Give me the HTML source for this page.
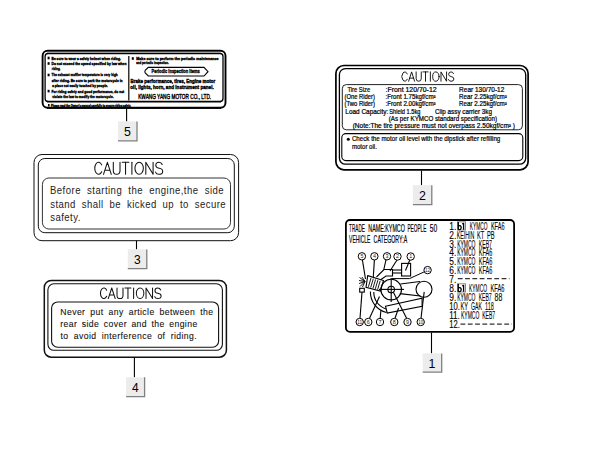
<!DOCTYPE html>
<html><head><meta charset="utf-8">
<style>
html,body{margin:0;padding:0;background:#fff;width:612px;height:472px;overflow:hidden}
svg{display:block}
text{font-family:"Liberation Sans",sans-serif}
.b{font-weight:bold}
</style></head><body>
<svg width="612" height="472" viewBox="0 0 612 472">
<rect width="612" height="472" fill="#fff"/>
<defs>
<g id="caut" fill="none" stroke-linecap="round" stroke-linejoin="round">
<path d="M7,2.6 A3.8,6 0 1 0 7,9.4"/>
<path d="M8.8,12 L12.7,0 L16.6,12 M10.1,8 H15.3"/>
<path d="M18.6,0 V8.4 Q18.6,12 21.95,12 Q25.3,12 25.3,8.4 V0"/>
<path d="M27.5,0 H34.2 M30.85,0 V12"/>
<path d="M37.2,0 V12"/>
<ellipse cx="44.45" cy="6" rx="4.2" ry="6"/>
<path d="M51.1,12 V0 L58.4,12 V0"/>
<path d="M67.5,2.2 Q66.6,0 64.3,0 Q61.1,0 61.1,3 Q61.1,5.5 64.4,6 Q68,6.5 68,9.1 Q68,12 64.3,12 Q61.6,12 60.8,9.8"/>
</g>
</defs>


<!-- ============ LABEL 5 ============ -->
<g id="l5">
  <rect x="42.6" y="50.7" width="182.9" height="57" rx="5" fill="none" stroke="#000" stroke-width="1.9"/>
  <rect x="45.1" y="53.5" width="177.9" height="47.9" rx="3" fill="none" stroke="#000" stroke-width="1.3"/>
  <line x1="47" y1="52.4" x2="221" y2="52.4" stroke="#999" stroke-width="1"/>
  <line x1="47" y1="102.5" x2="221" y2="102.5" stroke="#808080" stroke-width="1.1"/>
  <line x1="47" y1="107.9" x2="221" y2="107.9" stroke="#000" stroke-width="1.6"/>
  <line x1="128.8" y1="56" x2="128.8" y2="100.5" stroke="#000" stroke-width="1.2"/>
  <g class="b" font-size="4.3" fill="#000" stroke="#000" stroke-width="0.38">
    <text x="51.5" y="59.5" textLength="69.5" lengthAdjust="spacingAndGlyphs">Be sure to wear a safety helmet when riding.</text>
    <text x="51.5" y="65" textLength="75" lengthAdjust="spacingAndGlyphs">Do not exceed  the speed specified by law when</text>
    <text x="51.8" y="70.4" textLength="8.6" lengthAdjust="spacingAndGlyphs">riding.</text>
    <text x="51.5" y="76.2" textLength="66.2" lengthAdjust="spacingAndGlyphs">The exhaust muffler temperature is very high</text>
    <text x="51.8" y="81.5" textLength="70.8" lengthAdjust="spacingAndGlyphs">after riding. Be sure to park the motorcycle in</text>
    <text x="52.2" y="87" textLength="55.7" lengthAdjust="spacingAndGlyphs">a place not easily touched by people.</text>
    <text x="51.5" y="92.6" textLength="72.7" lengthAdjust="spacingAndGlyphs">For riding safety and good performance, do not</text>
    <text x="52.2" y="98" textLength="61.4" lengthAdjust="spacingAndGlyphs">violate the law to modify the motorcycle.</text>
    <text x="51" y="106.6" stroke-width="0.4" textLength="80" lengthAdjust="spacingAndGlyphs">Please read the Owner's manual carefully to ensure riding safety.</text>
    <text x="136.3" y="59.8" textLength="82.2" lengthAdjust="spacingAndGlyphs">Make sure to perform the periodic maintenance</text>
    <text x="136.3" y="63.6" textLength="32.5" lengthAdjust="spacingAndGlyphs">and periodic inspection.</text>
  </g>
  <g fill="#000">
    <rect x="47.6" y="56.7" width="2" height="2.6"/>
    <rect x="47.6" y="62.2" width="2" height="2.6"/>
    <rect x="47.6" y="73.7" width="2" height="2.6"/>
    <rect x="47.6" y="89.8" width="2" height="2.6"/>
    <rect x="131.8" y="57.2" width="2" height="2.6"/>
    <rect x="48" y="104" width="1.6" height="2.4"/>
  </g>
  <path d="M148.3,67.4 H204 L208,71.7 L204,76 H148.3 L145.2,73 Q144.5,71.7 145.2,70.4 Z" fill="none" stroke="#000" stroke-width="1.1"/>
  <text class="b" x="151.6" y="72.9" font-size="5.6" stroke="#000" stroke-width="0.35" textLength="48.1" lengthAdjust="spacingAndGlyphs">Periodic Inspection Items</text>
  <text class="b" x="130.6" y="83.3" font-size="5.6" stroke="#000" stroke-width="0.4" textLength="84.6" lengthAdjust="spacingAndGlyphs">Brake performance, tires, Engine motor</text>
  <text class="b" x="130.3" y="88.9" font-size="5.6" stroke="#000" stroke-width="0.4" textLength="83.4" lengthAdjust="spacingAndGlyphs">oil, lights, horn, and instrument panel.</text>
  <text x="138.2" y="98.8" font-size="6.5" stroke="#000" stroke-width="0.4" textLength="73" lengthAdjust="spacingAndGlyphs">KWANG YANG MOTOR CO., LTD.</text>
</g>

<!-- ============ LABEL 3 ============ -->
<g id="l3" fill="none" stroke="#111" stroke-width="1">
  <rect x="34" y="154.5" width="204.6" height="86.2" rx="8"/>
  <rect x="38.3" y="158.5" width="196" height="74.2" rx="6.5"/>
  <rect x="42.4" y="178" width="188.1" height="51" rx="6.5" stroke="#333"/>
</g>
<use href="#caut" transform="translate(94.7,162.3) scale(1,1.0)" stroke="#111" stroke-width="1.05"/>
<g font-size="10.4" fill="#222" letter-spacing="0.5">
  <text transform="translate(50,194) scale(0.92,1)" word-spacing="3.35">Before starting the engine,the side</text>
  <text transform="translate(50.2,207.7) scale(0.92,1)" word-spacing="2.95">stand shall be kicked up to secure</text>
  <text transform="translate(50.2,221) scale(0.92,1)">safety.</text>
</g>

<!-- ============ LABEL 4 ============ -->
<g id="l4" fill="none" stroke="#111">
  <rect x="44.3" y="280.5" width="182.1" height="76.7" rx="7" stroke-width="1.5"/>
  <rect x="47.9" y="283.8" width="174.5" height="66.5" rx="6" stroke-width="1.1"/>
  <rect x="51.6" y="302" width="167" height="45.2" rx="6" stroke-width="1.1"/>
</g>
<use href="#caut" transform="translate(100.4,288) scale(0.893,0.88)" stroke="#111" stroke-width="1.15"/>
<g font-size="9.4" fill="#111" stroke="#111" stroke-width="0.1" letter-spacing="0.45">
  <text transform="translate(60.3,314.7) scale(0.92,1)" word-spacing="2.35">Never put any article between the</text>
  <text transform="translate(60.3,326.5) scale(0.92,1)" word-spacing="1.8">rear side cover and the engine</text>
  <text transform="translate(60.5,338.5) scale(0.92,1)" word-spacing="2.6">to avoid interference of riding.</text>
</g>

<!-- ============ LABEL 2 ============ -->
<g id="l2" fill="none" stroke="#000">
  <rect x="335.9" y="65.5" width="192.2" height="104.3" rx="8" stroke-width="1.7"/>
  <rect x="339.4" y="68.6" width="186.3" height="95.6" rx="6" stroke-width="1.3"/>
  <rect x="342.3" y="84.6" width="180.1" height="45.2" rx="4" stroke-width="1" stroke="#222"/>
  <rect x="341.8" y="133.6" width="181" height="27" rx="4" stroke-width="1.1"/>
</g>
<use href="#caut" transform="translate(401.9,71.9) scale(0.765,0.78)" stroke="#000" stroke-width="1.15"/>
<g font-size="6.7" fill="#000" stroke="#000" stroke-width="0.22">
  <text x="347.4" y="92.1" textLength="22.8" lengthAdjust="spacingAndGlyphs">Tire Size</text>
  <text x="344.5" y="98.5" textLength="30.5" lengthAdjust="spacingAndGlyphs">(One Rider)</text>
  <text x="344.5" y="106.4" textLength="30.5" lengthAdjust="spacingAndGlyphs">(Two Rider)</text>
  <text x="345.3" y="113.8" textLength="43" lengthAdjust="spacingAndGlyphs">Load Capacity:</text>
  <text x="385.6" y="92.1" textLength="51" lengthAdjust="spacingAndGlyphs">:Front 120/70-12</text>
  <text x="385.6" y="98.5" textLength="50" lengthAdjust="spacingAndGlyphs">:Front 1.75kgf/cm²</text>
  <text x="385.6" y="106.4" textLength="50" lengthAdjust="spacingAndGlyphs">:Front 2.00kgf/cm²</text>
  <text x="459.1" y="92.1" textLength="45.2" lengthAdjust="spacingAndGlyphs">Rear 130/70-12</text>
  <text x="459.1" y="98.5" textLength="47.7" lengthAdjust="spacingAndGlyphs">Rear 2.25kgf/cm²</text>
  <text x="459.1" y="106.4" textLength="47.7" lengthAdjust="spacingAndGlyphs">Rear 2.25kgf/cm²</text>
  <text x="389.3" y="113.6" textLength="31.1" lengthAdjust="spacingAndGlyphs">Shield 1.5kg</text>
  <text x="435" y="113.8" textLength="57" lengthAdjust="spacingAndGlyphs">Clip assy carrier 3kg</text>
  <text x="388.8" y="121.2" textLength="108.2" lengthAdjust="spacingAndGlyphs">(As per KYMCO standard specification)</text>
  <text x="352.7" y="128.4" textLength="162.3" lengthAdjust="spacingAndGlyphs">(Note:The tire pressure must not overpass 2.50kgf/cm² )</text>
  <text x="351.9" y="141.4" stroke-width="0.2" textLength="148.4" lengthAdjust="spacingAndGlyphs">Check the motor oil level with the dipstick after refilling</text>
  <text x="351.9" y="149.2" stroke-width="0.2" textLength="25" lengthAdjust="spacingAndGlyphs">motor oil.</text>
</g>
<circle cx="348.3" cy="139.3" r="1.5" fill="#000"/>

<!-- ============ LABEL 1 ============ -->
<rect x="345.9" y="220" width="168.2" height="111.8" rx="4" fill="none" stroke="#000" stroke-width="1.8"/>
<g font-size="10.4" fill="#000" stroke="#000" stroke-width="0.2">
  <text x="349.1" y="232.3" textLength="15.8" lengthAdjust="spacingAndGlyphs">TRADE</text>
  <text x="368.3" y="232.3" textLength="36.6" lengthAdjust="spacingAndGlyphs">NAME:KYMCO</text>
  <text x="407.4" y="232.3" textLength="19.0" lengthAdjust="spacingAndGlyphs">PEOPLE</text>
  <text x="429.7" y="232.3" textLength="7.4" lengthAdjust="spacingAndGlyphs">50</text>
  <text x="349.1" y="242.9" textLength="21.2" lengthAdjust="spacingAndGlyphs">VEHICLE</text>
  <text x="373.6" y="242.9" textLength="33.6" lengthAdjust="spacingAndGlyphs">CATEGORY:A</text>
</g>
<g font-size="10" fill="#000" stroke="#000" stroke-width="0.12">
  <text x="449.3" y="229.6" textLength="7" lengthAdjust="spacingAndGlyphs">1.</text>
  <text x="449.3" y="238.5" textLength="7" lengthAdjust="spacingAndGlyphs">2.</text>
  <text x="449.3" y="247.5" textLength="7" lengthAdjust="spacingAndGlyphs">3.</text>
  <text x="449.3" y="256.4" textLength="7" lengthAdjust="spacingAndGlyphs">4.</text>
  <text x="449.3" y="265.3" textLength="7" lengthAdjust="spacingAndGlyphs">5.</text>
  <text x="449.3" y="274.2" textLength="7" lengthAdjust="spacingAndGlyphs">6.</text>
  <text x="449.3" y="283.2" textLength="7" lengthAdjust="spacingAndGlyphs">7.</text>
  <text x="449.3" y="292.1" textLength="7" lengthAdjust="spacingAndGlyphs">8.</text>
  <text x="449.3" y="301.0" textLength="7" lengthAdjust="spacingAndGlyphs">9.</text>
  <text x="449.2" y="310.0" textLength="10.6" lengthAdjust="spacingAndGlyphs">10.</text>
  <text x="449.2" y="318.9" textLength="10.6" lengthAdjust="spacingAndGlyphs">11.</text>
  <text x="449.2" y="327.8" textLength="10.6" lengthAdjust="spacingAndGlyphs">12.</text>
  <text font-size="10" stroke-width="0.1" x="469.8" y="229.6" textLength="17.6" lengthAdjust="spacingAndGlyphs">KYMCO</text>
  <text font-size="10" stroke-width="0.1" x="490.9" y="229.6" textLength="13.6" lengthAdjust="spacingAndGlyphs">KFA6</text>
  <text font-size="10" stroke-width="0.1" x="456.8" y="238.5" textLength="17.6" lengthAdjust="spacingAndGlyphs">KEIHIN</text>
  <text font-size="10" stroke-width="0.1" x="477.0" y="238.5" textLength="7.3" lengthAdjust="spacingAndGlyphs">KT</text>
  <text font-size="10" stroke-width="0.1" x="486.9" y="238.5" textLength="7.7" lengthAdjust="spacingAndGlyphs">PB</text>
  <text font-size="10" stroke-width="0.1" x="457.2" y="247.5" textLength="18.3" lengthAdjust="spacingAndGlyphs">KYMCO</text>
  <text font-size="10" stroke-width="0.1" x="478.7" y="247.5" textLength="13.3" lengthAdjust="spacingAndGlyphs">KEB7</text>
  <text font-size="10" stroke-width="0.1" x="457.2" y="256.4" textLength="18.3" lengthAdjust="spacingAndGlyphs">KYMCO</text>
  <text font-size="10" stroke-width="0.1" x="478.7" y="256.4" textLength="13.6" lengthAdjust="spacingAndGlyphs">KFA6</text>
  <text font-size="10" stroke-width="0.1" x="457.2" y="265.3" textLength="18.3" lengthAdjust="spacingAndGlyphs">KYMCO</text>
  <text font-size="10" stroke-width="0.1" x="478.7" y="265.3" textLength="13.6" lengthAdjust="spacingAndGlyphs">KFA6</text>
  <text font-size="10" stroke-width="0.1" x="457.2" y="274.2" textLength="18.3" lengthAdjust="spacingAndGlyphs">KYMCO</text>
  <text font-size="10" stroke-width="0.1" x="478.7" y="274.2" textLength="13.6" lengthAdjust="spacingAndGlyphs">KFA6</text>
  <text font-size="10" stroke-width="0.1" x="469.1" y="292.1" textLength="17.9" lengthAdjust="spacingAndGlyphs">KYMCO</text>
  <text font-size="10" stroke-width="0.1" x="490.5" y="292.1" textLength="13.9" lengthAdjust="spacingAndGlyphs">KFA6</text>
  <text font-size="10" stroke-width="0.1" x="457.2" y="301.0" textLength="18.3" lengthAdjust="spacingAndGlyphs">KYMCO</text>
  <text font-size="10" stroke-width="0.1" x="478.7" y="301.0" textLength="13.0" lengthAdjust="spacingAndGlyphs">KEB7</text>
  <text font-size="10" stroke-width="0.1" x="494.5" y="301.0" textLength="7.8" lengthAdjust="spacingAndGlyphs">88</text>
  <text font-size="10" stroke-width="0.1" x="460.4" y="310.0" textLength="7.6" lengthAdjust="spacingAndGlyphs">KY</text>
  <text font-size="10" stroke-width="0.1" x="471.0" y="310.0" textLength="11.0" lengthAdjust="spacingAndGlyphs">GAK</text>
  <text font-size="10" stroke-width="0.1" x="485.0" y="310.0" textLength="8.8" lengthAdjust="spacingAndGlyphs">118</text>
  <text font-size="10" stroke-width="0.1" x="461.0" y="318.9" textLength="18.3" lengthAdjust="spacingAndGlyphs">KYMCO</text>
  <text font-size="10" stroke-width="0.1" x="482.2" y="318.9" textLength="13.0" lengthAdjust="spacingAndGlyphs">KEB7</text>
</g>
<g stroke="#333" stroke-width="1.3" stroke-dasharray="4.8,2.5">
  <line x1="457.8" y1="278.7" x2="509.5" y2="278.7"/>
  <line x1="460.5" y1="324.2" x2="512" y2="324.2"/>
</g>
<g id="ico1" transform="translate(457,221.3)">
  <rect x="0.5" y="0.5" width="8" height="8.2" fill="none" stroke="#888" stroke-width="1"/>
  <path d="M1.3,0.6 V8.5 M1.3,4.5 Q4.2,3.8 4.2,6.3 Q4.2,8.5 1.3,8.3 M6.6,1.7 V8.5 M5.4,3 L6.6,1.7" fill="none" stroke="#000" stroke-width="1.3"/>
</g>
<use href="#ico1" transform="translate(0,62)"/>

<!-- engine drawing -->
<g fill="none" stroke="#000" stroke-width="1.1">
  <!-- coil box -->
  <rect x="401.6" y="263.4" width="9" height="12.6"/>
  <line x1="409.8" y1="260" x2="405.5" y2="270.5"/>
  <line x1="397" y1="260" x2="390" y2="271"/>
  <line x1="392" y1="270" x2="401.6" y2="270"/>
  <line x1="392" y1="273" x2="401.6" y2="273"/>
  <!-- carb -->
  <path d="M376.5,277 L384,269.5 H392.5 V276 H386 L381,279.5"/>
  <line x1="386" y1="259.8" x2="383.8" y2="269.5"/>
  <line x1="374.4" y1="259.8" x2="373.3" y2="277"/>
  <line x1="362.4" y1="259.8" x2="365.5" y2="279"/>
  <!-- 12 leader -->
  <polyline points="424.3,271.8 409.5,278.6 392,278.6" stroke-width="1"/>
  <!-- crank -->
  <circle cx="391.2" cy="289.6" r="10.3"/>
  <circle cx="391.2" cy="289.6" r="3.3"/>
  <line x1="379" y1="289.4" x2="404" y2="289.4"/>
  <line x1="391.2" y1="278" x2="391.2" y2="302"/>
  <!-- pulley -->
  <circle cx="424" cy="289.2" r="8"/>
  <line x1="400.5" y1="284" x2="420" y2="281.5"/>
  <line x1="399.8" y1="293.6" x2="420.4" y2="296"/>
  <!-- muffler -->
  <path d="M385.5,306.2 L422.1,298.2 L422.1,306.2 L387.2,313 Z"/>
  <!-- arc case -->
  <path d="M370.4,291.5 A21,21 0 0 0 386.5,312.5"/>
  <path d="M373.8,292 A17.5,17.5 0 0 0 386,309"/>
  <!-- cylinder -->
  <polygon points="367.7,275.6 383.5,280.5 380.4,291 366,287.4"/>
  <!-- part 11 box -->
  <rect x="359.7" y="288.3" width="4.6" height="3.8"/>
  <!-- leaders bottom -->
  <line x1="362" y1="292.1" x2="360" y2="318.3"/>
  <line x1="379.5" y1="296.5" x2="369.5" y2="318.3"/>
  <line x1="380.9" y1="310.3" x2="380.2" y2="318.3"/>
  <line x1="398.6" y1="308" x2="395" y2="318.3"/>
  <line x1="393.5" y1="292.5" x2="406.6" y2="318.3"/>
  <line x1="424.2" y1="291.9" x2="421" y2="318.3"/>
</g>
<g stroke="#000" stroke-width="0.9">
  <line x1="371" y1="278" x2="368.4" y2="286.8"/>
  <line x1="373.3" y1="278.7" x2="370.7" y2="287.5"/>
  <line x1="375.6" y1="279.4" x2="373" y2="288.2"/>
  <line x1="377.9" y1="280.1" x2="375.3" y2="288.9"/>
  <line x1="380.2" y1="280.8" x2="377.6" y2="289.6"/>
  <!-- spark -->
  <path d="M365,281.5 L359.5,277.5 M365,281.5 L359,280.5 M365,281.5 L359,283.5 M365,281.5 L360,286.5 M365,281.5 L362,277 M365,281.5 L362.5,287" stroke-width="0.9"/>
</g>
<g fill="#fff" stroke="#000" stroke-width="1">
  <circle cx="361.9" cy="256.3" r="3.7"/>
  <circle cx="374.4" cy="256.3" r="3.7"/>
  <circle cx="387" cy="256.3" r="3.7"/>
  <circle cx="397.5" cy="256.5" r="3.7"/>
  <circle cx="410.7" cy="256.5" r="3.7"/>
  <circle cx="427.6" cy="270.1" r="3.7"/>
  <circle cx="359.7" cy="322" r="3.7"/>
  <circle cx="368.3" cy="322" r="3.7"/>
  <circle cx="380" cy="322" r="3.7"/>
  <circle cx="394.3" cy="322" r="3.7"/>
  <circle cx="407.5" cy="322" r="3.7"/>
  <circle cx="420.7" cy="322" r="3.7"/>
</g>
<g font-size="5.4" fill="#222" text-anchor="middle">
  <text x="361.9" y="258.2">5</text>
  <text x="374.4" y="258.2">4</text>
  <text x="387" y="258.2">3</text>
  <text x="397.5" y="258.4">2</text>
  <text x="410.7" y="258.4">1</text>
  <text x="427.6" y="272" textLength="5" lengthAdjust="spacingAndGlyphs">12</text>
  <text x="359.7" y="323.9" textLength="5" lengthAdjust="spacingAndGlyphs">11</text>
  <text x="368.3" y="323.9">6</text>
  <text x="380" y="323.9">7</text>
  <text x="394.3" y="323.9">8</text>
  <text x="407.5" y="323.9">9</text>
  <text x="420.7" y="323.9" textLength="5" lengthAdjust="spacingAndGlyphs">10</text>
</g>

<!-- ============ LEADERS & NUMBER BOXES ============ -->
<g stroke="#000" stroke-width="1.1">
  <line x1="126.6" y1="108.5" x2="126.6" y2="121.4"/>
  <line x1="136.5" y1="240.7" x2="136.5" y2="249.4"/>
  <line x1="134.4" y1="357.5" x2="134.4" y2="377.3"/>
  <line x1="421.5" y1="170.5" x2="421.5" y2="185.2"/>
  <line x1="431.5" y1="332.5" x2="431.5" y2="353.4"/>
</g>
<g id="nb">
  <g transform="translate(118,121.4)">
    <rect x="0" y="0" width="19" height="19.5" fill="#ececec"/>
    <path d="M0,19.5 H19 V0" fill="none" stroke="#808080" stroke-width="1.3"/>
    <text x="9.5" y="15" font-size="12.4" text-anchor="middle">5</text>
  </g>
  <g transform="translate(127.8,249.4)">
    <rect x="0" y="0" width="19" height="19.2" fill="#ececec"/>
    <path d="M0,19.2 H19 V0" fill="none" stroke="#808080" stroke-width="1.3"/>
    <text x="9.5" y="14.4" font-size="12" text-anchor="middle">3</text>
  </g>
  <g transform="translate(126.1,377.3)">
    <rect x="0" y="0" width="18.5" height="19.3" fill="#ececec"/>
    <path d="M0,19.3 H18.5 V0" fill="none" stroke="#808080" stroke-width="1.3"/>
    <text x="9.3" y="14.8" font-size="12" text-anchor="middle">4</text>
  </g>
  <g transform="translate(412.9,185.2)">
    <rect x="0" y="0" width="18.9" height="19.4" fill="#ececec"/>
    <path d="M0,19.4 H18.9 V0" fill="none" stroke="#808080" stroke-width="1.3"/>
    <text x="9.6" y="14.7" font-size="12.4" text-anchor="middle">2</text>
  </g>
  <g transform="translate(422.7,353.4)">
    <rect x="0" y="0" width="19" height="18.7" fill="#ececec"/>
    <path d="M0,18.7 H19 V0" fill="none" stroke="#808080" stroke-width="1.3"/>
    <text x="9.3" y="14.5" font-size="12.4" text-anchor="middle">1</text>
  </g>
</g>
</svg>
</body></html>
